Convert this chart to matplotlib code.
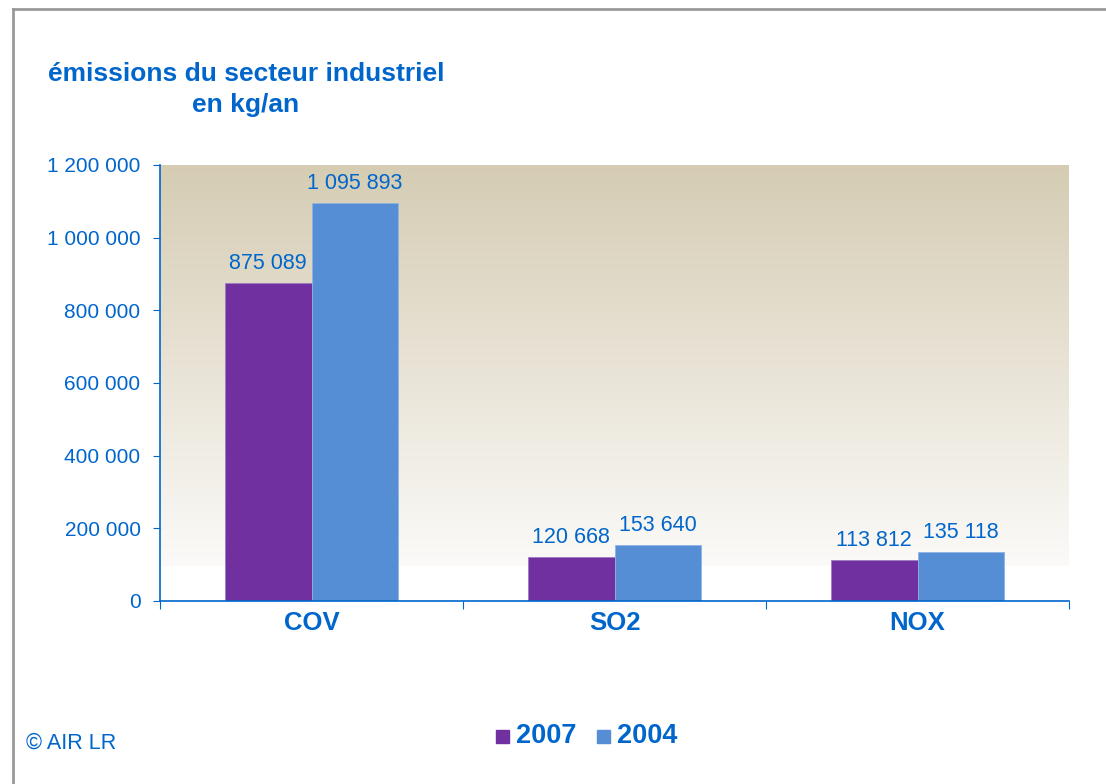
import matplotlib.pyplot as plt
import numpy as np
from matplotlib.patches import Rectangle
from matplotlib.lines import Line2D

plt.rcParams['font.family'] = ['Liberation Sans', 'DejaVu Sans']

categories = ['COV', 'SO2', 'NOX']
v2007 = [875089, 120668, 113812]
v2004 = [1095893, 153640, 135118]
yticks = [0, 200000, 400000, 600000, 800000, 1000000, 1200000]

blue = '#0066CC'
c2007 = '#7030A0'
c2004 = '#558ED5'


def fmt(v):
    return f'{v:,}'.replace(',', ' ')


fig = plt.figure(figsize=(11.06, 7.84), dpi=100)
W, H = 1106, 784
ax = fig.add_axes([160 / W, 1 - 601 / H, (1069 - 160) / W, (601 - 165) / H])

# border of the slide frame
fig.add_artist(Line2D([13 / W, 13 / W], [0, 1 - 9 / H], color='#999999', lw=2))
fig.add_artist(Line2D([13 / W, 1], [1 - 9 / H, 1 - 9 / H], color='#999999', lw=2))

ax.set_xlim(0, 3)
ax.set_ylim(0, 1200000)

# gradient background: tan at top to white near the bottom
top = np.array([0xD5, 0xCC, 0xB3]) / 255
bot = np.array([0xFB, 0xFA, 0xF8]) / 255
n = 256
t = np.linspace(0, 1, n)[:, None]
grad = (bot[None, :] * (1 - t) + top[None, :] * t)[:, None, :]
ax.imshow(grad, extent=[0, 3, 95000, 1200000], origin='lower', aspect='auto', zorder=0)

x = np.arange(len(categories)) + 0.5
w = 0.287
ax.bar(x - w / 2, v2007, w, color=c2007, edgecolor='#9C7CC0', linewidth=0.6, zorder=2)
ax.bar(x + w / 2, v2004, w, color=c2004, edgecolor='#8FB3E3', linewidth=0.6, zorder=2)

for xi, a, b in zip(x, v2007, v2004):
    ax.text(xi - w / 2, a + 25000, fmt(a), ha='center', va='bottom', color=blue, fontsize=15.5)
    ax.text(xi + w / 2, b + 25000, fmt(b), ha='center', va='bottom', color=blue, fontsize=15.5)

ax.set_yticks(yticks)
ax.set_yticklabels([fmt(v) for v in yticks], color=blue, fontsize=15)
ax.set_xticks([0, 1, 2, 3])
ax.set_xticklabels([])
for xi, c in zip(x, categories):
    ax.text(xi, -60000, c, ha='center', va='center', color=blue, fontsize=18.5, fontweight='bold')

ax.tick_params(axis='y', direction='out', length=5, color=blue, pad=9)
ax.tick_params(axis='x', direction='out', length=6, color=blue)
for s in ['top', 'right']:
    ax.spines[s].set_visible(False)
for s in ['left', 'bottom']:
    ax.spines[s].set_color(blue)
    ax.spines[s].set_linewidth(1.2)

fig.text(246 / W, 1 - 74 / H, 'émissions du secteur industriel', ha='center', va='center',
         color=blue, fontsize=19, fontweight='bold')
fig.text(246 / W, 1 - 105 / H, 'en kg/an', ha='center', va='center',
         color=blue, fontsize=19, fontweight='bold')
fig.text(26 / W, 1 - 743 / H, '© AIR LR', ha='left', va='center', color=blue, fontsize=15.5)

# legend
fig.add_artist(Rectangle((496 / W, 1 - 743 / H), 13 / W, 13 / H, color=c2007))
fig.text(516 / W, 1 - 736 / H, '2007', ha='left', va='center', color=blue, fontsize=19.5, fontweight='bold')
fig.add_artist(Rectangle((597 / W, 1 - 743 / H), 13 / W, 13 / H, color=c2004))
fig.text(617 / W, 1 - 736 / H, '2004', ha='left', va='center', color=blue, fontsize=19.5, fontweight='bold')

fig.savefig('out.png', dpi=100)
